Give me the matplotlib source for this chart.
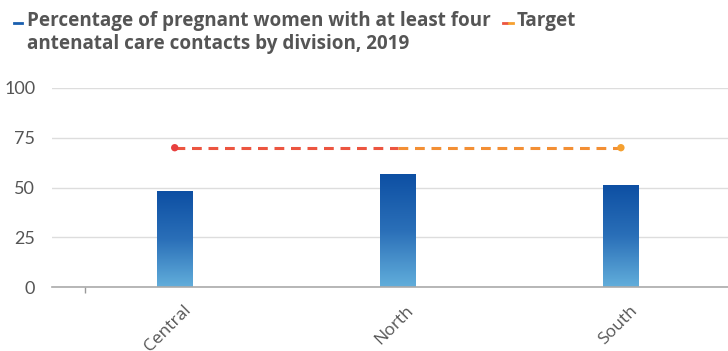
import numpy as np
import matplotlib
matplotlib.use("Agg")
import matplotlib.pyplot as plt
from matplotlib.colors import LinearSegmentedColormap
from matplotlib.collections import LineCollection
from matplotlib.lines import Line2D
import matplotlib.transforms as mtransforms

categories = ["Central", "North", "South"]
values = [48.2, 56.8, 51.3]
target = [70, 70, 70]
yticks = [0, 25, 50, 75, 100]

plt.rcParams['font.family'] = ['Lato', 'DejaVu Sans']

fig = plt.figure(figsize=(7.28, 3.51), dpi=100)
ax = fig.add_axes([52/728, 1-287/351, 1-52/728, (287-88)/351])

x = np.arange(len(categories))
bars = ax.bar(x, values, width=0.16, color='none', zorder=3)
cmap = LinearSegmentedColormap.from_list('bl', ['#62aedb', '#2a6fb8', '#0d4fa3'])
grad = np.linspace(0, 1, 256).reshape(-1, 1)
for b in bars:
    x0, y0 = b.get_x(), b.get_y()
    w, h = b.get_width(), b.get_height()
    im = ax.imshow(grad, extent=[x0, x0 + w, y0, y0 + h], origin='lower',
                   cmap=cmap, aspect='auto', zorder=3)
    im.set_clip_path(b)

# target line with red->orange gradient
pts = np.column_stack([x, target])
segs = [pts[i:i+2] for i in range(len(pts) - 1)]
lc = LineCollection(segs, colors=['#ec5540', '#f38f34'], linewidths=2.2,
                    linestyles=(0, (3.2, 2.2)), zorder=4)
ax.add_collection(lc)
ax.scatter([x[0], x[-1]], [target[0], target[-1]], s=28,
           color=['#e8403f', '#f5a030'], zorder=5, linewidths=0)

ax.set_xlim(-0.55, 2.48)
ax.set_ylim(0, 100)
ax.set_yticks(yticks)
ax.set_yticklabels([str(v) for v in yticks])
ax.set_xticks(x)
ax.set_xticks([-0.4], minor=True)
ax.tick_params(axis='x', which='minor', length=4, color='#999', width=1)
ax.tick_params(axis='x', which='major', length=0, pad=6)
ax.set_xticklabels(categories, rotation=45, ha='right', rotation_mode='anchor',
                   fontsize=12.5, color='#555555', family=['Open Sans', 'DejaVu Sans'])
for lab in ax.get_xticklabels():
    offset = mtransforms.ScaledTranslation(8/100, -7/100, fig.dpi_scale_trans)
    lab.set_transform(lab.get_transform() + offset)
ax.tick_params(axis='y', length=0, pad=12, labelsize=13, labelcolor='#555555')
ax.grid(axis='y', color='#dddddd', linewidth=1, zorder=0)
ax.set_axisbelow(True)
for s in ['left', 'right', 'top']:
    ax.spines[s].set_visible(False)
ax.spines['bottom'].set_color('#aaaaaa')
ax.spines['bottom'].set_linewidth(1.2)
ax.spines['bottom'].set_zorder(6)

# legend (top)
ly = 1 - 23/351
fig.add_artist(Line2D([14/728, 22/728], [ly, ly], color='#1a5faf', lw=2))
fig.text(27/728, 1-11/351, "Percentage of pregnant women with at least four\nantenatal care contacts by division, 2019",
         fontsize=13.6, fontweight='bold', color='#555555', va='top', linespacing=1.2,
         family=['Open Sans', 'DejaVu Sans'])
fig.add_artist(Line2D([503/728, 507/728], [ly, ly], color='#ec5540', lw=2))
fig.add_artist(Line2D([509/728, 513/728], [ly, ly], color='#f5a030', lw=2))
fig.text(517/728, 1-11/351, "Target", fontsize=13.6, fontweight='bold', color='#555555', va='top',
         family=['Open Sans', 'DejaVu Sans'])

fig.savefig('out.png', dpi=100)
